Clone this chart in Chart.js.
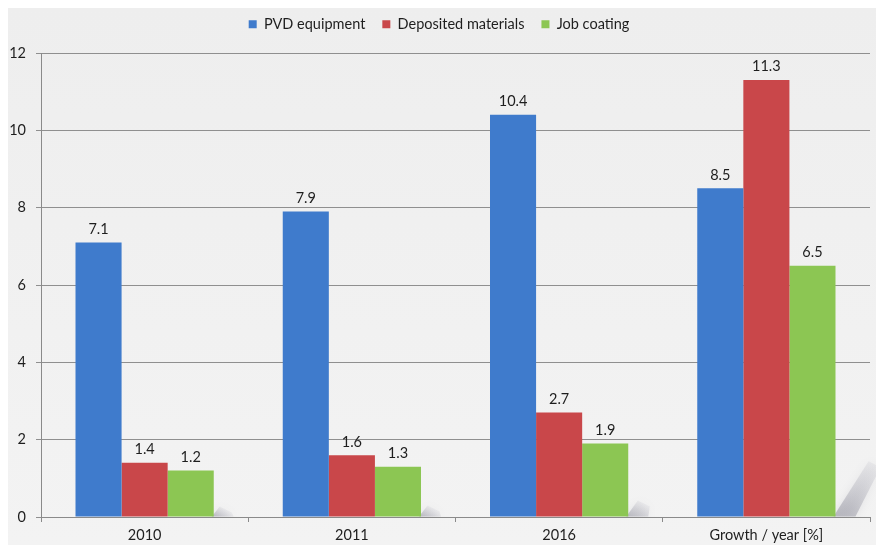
<!DOCTYPE html>
<html>
<head>
<meta charset="utf-8">
<script src="https://cdn.jsdelivr.net/npm/chart.js@4/dist/chart.umd.min.js"></script>
<style>
  html, body { margin: 0; padding: 0; background: #ffffff; }
  #wrap { width: 880px; height: 549px; position: relative; }
</style>
</head>
<body>
<div id="wrap"><canvas id="c" width="880" height="549"></canvas></div>
<script>
// Categories along the x axis
const categories = ['2010', '2011', '2016', 'Growth / year [%]'];
// Series values
const pvdEquipment = [7.1, 7.9, 10.4, 8.5];
const depositedMaterials = [1.4, 1.6, 2.7, 11.3];
const jobCoating = [1.2, 1.3, 1.9, 6.5];
// Y axis tick range
const yMin = 0, yMax = 12, yStep = 2;

const FONT = 'Lato, "Open Sans", "Liberation Sans", sans-serif';
const FONT_SIZE = 14.5;

// Light grey panel behind the whole chart
const panelBackground = {
  id: 'panelBackground',
  beforeDraw(chart) {
    const ctx = chart.ctx;
    ctx.save();
    ctx.fillStyle = '#ffffff';
    ctx.fillRect(0, 0, chart.width, chart.height);
    const g = ctx.createLinearGradient(0, 8, 0, chart.height - 4);
    g.addColorStop(0, '#eeeeee');
    g.addColorStop(1, '#f3f3f3');
    ctx.fillStyle = g;
    ctx.fillRect(8, 8, chart.width - 12, chart.height - 12);
    ctx.restore();
  }
};

// Extra room between the legend row and the plot area
const legendGap = {
  id: 'legendGap',
  afterInit(chart) {
    const legend = chart.legend;
    if (!legend) return;
    const fit = legend.fit;
    legend.fit = function () {
      fit.call(this);
      this.height += 11.5;
    };
  }
};

// Soft slanted shadow cast from the right edge of the last series' bars
const barShadow = {
  id: 'barShadow',
  beforeDatasetsDraw(chart) {
    const ctx = chart.ctx;
    const meta = chart.getDatasetMeta(2);
    const area = chart.chartArea;
    ctx.save();
    ctx.beginPath();
    ctx.rect(area.left, area.top, chart.width - 4 - area.left, area.bottom - area.top);
    ctx.clip();
    meta.data.forEach(bar => {
      const xr = bar.x + bar.width / 2;
      const base = bar.base;
      const h = (base - bar.y) * 0.22;
      const g = ctx.createLinearGradient(xr, base, xr + 0.6 * h, base - h);
      g.addColorStop(0, 'rgba(120,120,135,0.45)');
      g.addColorStop(1, 'rgba(160,160,175,0.12)');
      ctx.fillStyle = g;
      ctx.shadowColor = 'rgba(130,130,145,0.45)';
      ctx.shadowBlur = 10;
      ctx.beginPath();
      ctx.moveTo(xr - 2, base);
      ctx.lineTo(xr + 0.6 * h, base - h);
      ctx.lineTo(xr + 0.6 * h + 12, base - h + 6);
      ctx.lineTo(xr + 20, base);
      ctx.closePath();
      ctx.fill();
    });
    ctx.restore();
  }
};

// Value printed above each bar
const valueLabels = {
  id: 'valueLabels',
  afterDatasetsDraw(chart) {
    const ctx = chart.ctx;
    ctx.save();
    ctx.font = FONT_SIZE + 'px ' + FONT;
    ctx.fillStyle = '#1e1e1e';
    ctx.textAlign = 'center';
    ctx.textBaseline = 'bottom';
    chart.data.datasets.forEach((ds, i) => {
      chart.getDatasetMeta(i).data.forEach((bar, j) => {
        ctx.fillText(ds.data[j].toFixed(1), bar.x, bar.y - 6);
      });
    });
    ctx.restore();
  }
};

new Chart(document.getElementById('c'), {
  type: 'bar',
  data: {
    labels: categories,
    datasets: [
      { label: 'PVD equipment', data: pvdEquipment, backgroundColor: '#3f7bcc' },
      { label: 'Deposited materials', data: depositedMaterials, backgroundColor: '#c9474a' },
      { label: 'Job coating', data: jobCoating, backgroundColor: '#8cc653' }
    ]
  },
  options: {
    responsive: false,
    animation: false,
    devicePixelRatio: 1,
    layout: { padding: { left: 8, right: 10, top: 0, bottom: 4 } },
    datasets: { bar: { categoryPercentage: 0.667, barPercentage: 1.0 } },
    plugins: {
      legend: {
        position: 'top',
        labels: {
          boxWidth: 8, boxHeight: 8, padding: 17,
          color: '#1e1e1e',
          font: { family: FONT, size: FONT_SIZE }
        }
      },
      tooltip: { enabled: false }
    },
    scales: {
      x: {
        grid: { drawOnChartArea: false, drawTicks: true, tickLength: 5, color: '#8a8a8a', offset: true },
        border: { color: '#8a8a8a' },
        ticks: { color: '#1e1e1e', font: { family: FONT, size: FONT_SIZE }, padding: 5 },
        afterFit(scale) { scale.height = 28; }
      },
      y: {
        min: yMin, max: yMax,
        ticks: { stepSize: yStep, color: '#1e1e1e', font: { family: FONT, size: FONT_SIZE }, padding: 10 },
        grid: { color: '#8f8f8f', tickLength: 5 },
        border: { color: '#8a8a8a' },
        afterFit(scale) { scale.width = 33; }
      }
    }
  },
  plugins: [panelBackground, legendGap, barShadow, valueLabels]
});
</script>
</body>
</html>
